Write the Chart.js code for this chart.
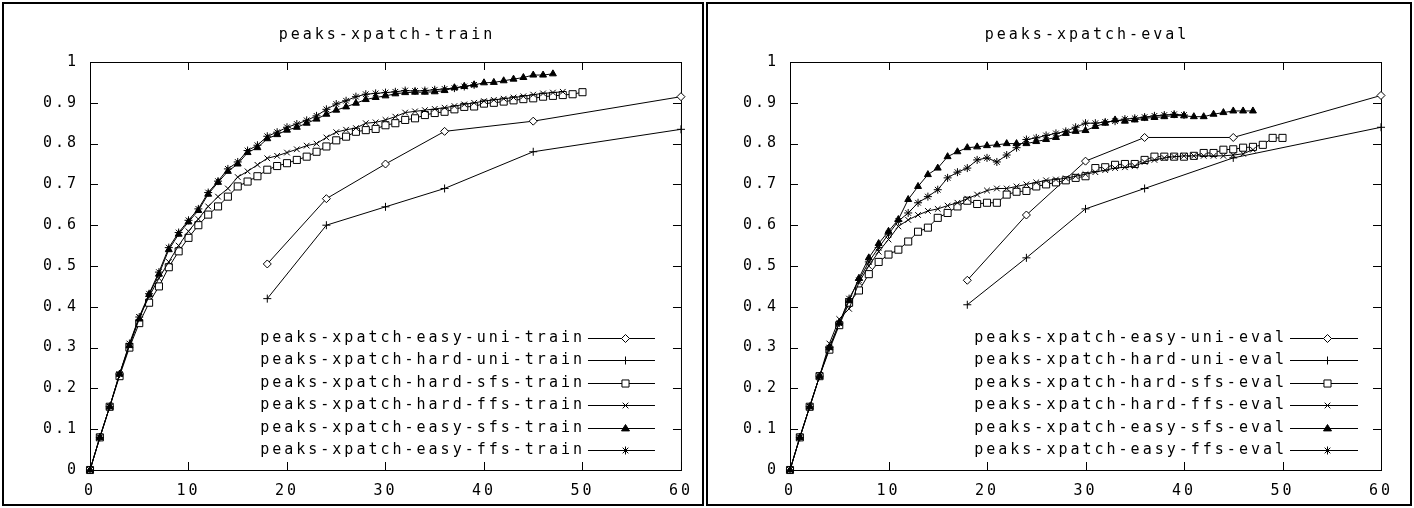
<!DOCTYPE html>
<html>
<head>
<meta charset="utf-8">
<script src="https://cdn.jsdelivr.net/npm/chart.js@4/dist/chart.umd.min.js"></script>
<style>
body { margin: 0; background: #fff; width: 1414px; height: 508px; position: relative; overflow: hidden; }
.panel { position: absolute; top: 2px; border: 2px solid #000; height: 500px; background: #fff; }
#p1 { left: 2px; width: 698px; }
#p2 { left: 706px; width: 702px; }
canvas { display: block; }
</style>
</head>
<body>
<div class="panel" id="p1"><canvas id="train" width="698" height="500"></canvas></div>
<div class="panel" id="p2"><canvas id="eval" width="702" height="500"></canvas></div>
<script>
// feature counts on the x axis
var steps = [0,1,2,3,4,5,6,7,8,9,10,11,12,13,14,15,16,17,18,19,20,21,22,23,24,25,
  26,27,28,29,30,31,32,33,34,35,36,37,38,39,40,41,42,43,44,45,46,47,48,49,50];
var uniX = [18, 24, 30, 36, 45, 60];

var xTicks = [0, 10, 20, 30, 40, 50, 60];
var yTicks = [0, 0.1, 0.2, 0.3, 0.4, 0.5, 0.6, 0.7, 0.8, 0.9, 1];

var trainNames = ['peaks-xpatch-easy-uni-train', 'peaks-xpatch-hard-uni-train',
  'peaks-xpatch-hard-sfs-train', 'peaks-xpatch-hard-ffs-train',
  'peaks-xpatch-easy-sfs-train', 'peaks-xpatch-easy-ffs-train'];
var evalNames = ['peaks-xpatch-easy-uni-eval', 'peaks-xpatch-hard-uni-eval',
  'peaks-xpatch-hard-sfs-eval', 'peaks-xpatch-hard-ffs-eval',
  'peaks-xpatch-easy-sfs-eval', 'peaks-xpatch-easy-ffs-eval'];

// train
var trainEasyUni = [0.505, 0.665, 0.75, 0.83, 0.855, 0.915];
var trainHardUni = [0.42, 0.60, 0.645, 0.69, 0.78, 0.835];
var trainHardSfs = [0, 0.08, 0.155, 0.23, 0.30, 0.36, 0.41, 0.45, 0.497, 0.536, 0.569, 0.60, 0.626,
  0.646, 0.67, 0.695, 0.707, 0.72, 0.736, 0.745, 0.752, 0.76, 0.768, 0.78, 0.793, 0.808, 0.817,
  0.829, 0.833, 0.836, 0.845, 0.85, 0.858, 0.862, 0.87, 0.875, 0.878, 0.884, 0.89, 0.891, 0.898,
  0.90, 0.903, 0.906, 0.909, 0.911, 0.915, 0.917, 0.919, 0.921, 0.926];
var trainHardFfs = [0, 0.08, 0.155, 0.235, 0.305, 0.375, 0.425, 0.47, 0.51, 0.55, 0.585, 0.615,
  0.646, 0.67, 0.69, 0.718, 0.732, 0.748, 0.764, 0.77, 0.778, 0.786, 0.795, 0.80, 0.815, 0.828,
  0.834, 0.838, 0.85, 0.852, 0.858, 0.866, 0.876, 0.879, 0.882, 0.885, 0.888, 0.892, 0.896, 0.90,
  0.904, 0.907, 0.91, 0.913, 0.916, 0.92, 0.923, 0.925, 0.927];
var trainEasySfs = [0, 0.08, 0.155, 0.235, 0.305, 0.37, 0.43, 0.48, 0.54, 0.578, 0.608, 0.636,
  0.676, 0.705, 0.732, 0.75, 0.778, 0.79, 0.812, 0.822, 0.833, 0.84, 0.85, 0.86, 0.872, 0.882,
  0.89, 0.899, 0.908, 0.913, 0.917, 0.922, 0.925, 0.926, 0.926, 0.927, 0.93, 0.937, 0.94, 0.944,
  0.949, 0.95, 0.954, 0.958, 0.962, 0.968, 0.968, 0.971];
var trainEasyFfs = [0, 0.08, 0.155, 0.235, 0.31, 0.375, 0.432, 0.485, 0.545, 0.582, 0.612, 0.64,
  0.68, 0.708, 0.738, 0.755, 0.783, 0.796, 0.818, 0.828, 0.84, 0.848, 0.857, 0.868, 0.884, 0.897,
  0.905, 0.915, 0.921, 0.923, 0.925, 0.927, 0.93, 0.929, 0.93, 0.932, 0.934, 0.936, 0.94, 0.944];

// eval
var evalEasyUni = [0.465, 0.625, 0.757, 0.815, 0.815, 0.918];
var evalHardUni = [0.405, 0.52, 0.64, 0.69, 0.765, 0.84];
var evalHardSfs = [0, 0.08, 0.155, 0.23, 0.295, 0.355, 0.41, 0.44, 0.48, 0.51, 0.528, 0.54, 0.56,
  0.584, 0.594, 0.618, 0.63, 0.646, 0.66, 0.652, 0.655, 0.655, 0.675, 0.682, 0.684, 0.695, 0.70,
  0.705, 0.71, 0.716, 0.72, 0.74, 0.742, 0.748, 0.75, 0.75, 0.76, 0.768, 0.768, 0.768, 0.768,
  0.77, 0.777, 0.777, 0.785, 0.786, 0.79, 0.792, 0.797, 0.814, 0.814];
var evalHardFfs = [0, 0.08, 0.155, 0.23, 0.31, 0.37, 0.395, 0.46, 0.50, 0.535, 0.565, 0.597, 0.613,
  0.625, 0.635, 0.64, 0.648, 0.655, 0.665, 0.675, 0.685, 0.69, 0.69, 0.695, 0.70, 0.705, 0.71,
  0.712, 0.715, 0.72, 0.725, 0.73, 0.735, 0.74, 0.742, 0.745, 0.755, 0.76, 0.765, 0.768, 0.77,
  0.77, 0.77, 0.77, 0.77, 0.772, 0.775, 0.785];
var evalEasySfs = [0, 0.08, 0.155, 0.23, 0.30, 0.36, 0.415, 0.47, 0.52, 0.555, 0.585, 0.614, 0.663,
  0.695, 0.724, 0.74, 0.768, 0.78, 0.79, 0.792, 0.795, 0.797, 0.80, 0.80, 0.80, 0.805, 0.81,
  0.815, 0.825, 0.83, 0.832, 0.842, 0.85, 0.858, 0.855, 0.858, 0.862, 0.864, 0.866, 0.869, 0.868,
  0.866, 0.866, 0.872, 0.876, 0.88, 0.88, 0.88];
var evalEasyFfs = [0, 0.08, 0.155, 0.23, 0.30, 0.36, 0.42, 0.465, 0.51, 0.545, 0.578, 0.61, 0.63,
  0.655, 0.67, 0.687, 0.716, 0.73, 0.74, 0.76, 0.765, 0.755, 0.772, 0.79, 0.81, 0.814, 0.82,
  0.825, 0.83, 0.84, 0.85, 0.85, 0.853, 0.855, 0.86, 0.862, 0.865, 0.868, 0.87, 0.872, 0.87];

var FAMILY = "'DejaVu Sans Mono', monospace";
var FONT = "15px " + FAMILY;
var LS = 3;

// gnuplot point types, in series order
var marks = [
  { style: 'rectRot', r: 4, fill: '#fff' },
  { style: 'cross', r: 4, fill: '#000' },
  { style: 'rect', r: 5, fill: '#fff' },
  { style: 'crossRot', r: 4, fill: '#000' },
  { style: 'triangle', r: 4, fill: '#000' },
  { style: 'star', r: 4, fill: '#000' }
];

// title and key placement per canvas (offsets from the right edge of the plot)
var panelText = {
  train: { title: 'peaks-xpatch-train', titleY: 31, textEnd: 99, lineStart: 93, lineEnd: 26, markAt: 56 },
  eval: { title: 'peaks-xpatch-eval', titleY: 31, textEnd: 97, lineStart: 91, lineEnd: 23, markAt: 54 }
};

function pts(xs, ys) {
  return ys.map(function (y, i) { return { x: xs[i], y: y }; });
}

function makeSets(names, series) {
  return series.map(function (s, i) {
    return {
      label: names[i],
      data: pts(s[0], s[1]),
      borderColor: '#000',
      borderWidth: 1,
      pointStyle: marks[i].style,
      pointRadius: marks[i].r,
      pointBorderColor: '#000',
      pointBorderWidth: 1,
      pointBackgroundColor: marks[i].fill,
      tension: 0,
      clip: false,
      order: 5 - i
    };
  });
}

// key sample marks
function drawMark(ctx, m, x, y) {
  var r = m.r, d;
  ctx.save();
  ctx.fillStyle = m.fill;
  ctx.strokeStyle = '#000';
  ctx.lineWidth = 1;
  ctx.beginPath();
  if (m.style === 'rectRot') {
    ctx.moveTo(x, y - r); ctx.lineTo(x + r, y); ctx.lineTo(x, y + r); ctx.lineTo(x - r, y);
    ctx.closePath(); ctx.fill(); ctx.stroke();
  } else if (m.style === 'rect') {
    d = r * Math.SQRT1_2;
    ctx.rect(x - d, y - d, 2 * d, 2 * d); ctx.fill(); ctx.stroke();
  } else if (m.style === 'triangle') {
    ctx.moveTo(x, y - r); ctx.lineTo(x + r, y + r * 0.6); ctx.lineTo(x - r, y + r * 0.6);
    ctx.closePath(); ctx.fill(); ctx.stroke();
  } else {
    if (m.style === 'cross' || m.style === 'star') {
      ctx.moveTo(x - r, y); ctx.lineTo(x + r, y); ctx.moveTo(x, y - r); ctx.lineTo(x, y + r);
    }
    if (m.style === 'crossRot' || m.style === 'star') {
      d = r * Math.SQRT1_2;
      ctx.moveTo(x - d, y - d); ctx.lineTo(x + d, y + d); ctx.moveTo(x - d, y + d); ctx.lineTo(x + d, y - d);
    }
    ctx.stroke();
  }
  ctx.restore();
}

var gnuplotLook = {
  id: 'gnuplotLook',
  beforeDraw: function (chart) {
    chart.ctx.letterSpacing = LS + 'px';
  },
  beforeDatasetsDraw: function (chart) {
    var ctx = chart.ctx, a = chart.chartArea, sx = chart.scales.x, sy = chart.scales.y;
    ctx.save();
    ctx.strokeStyle = '#000';
    ctx.lineWidth = 1;
    ctx.strokeRect(a.left + 0.5, a.top + 0.5, a.right - a.left, a.bottom - a.top);
    ctx.beginPath();
    sx.ticks.forEach(function (t) {
      var px = Math.round(sx.getPixelForValue(t.value)) + 0.5;
      ctx.moveTo(px, a.bottom); ctx.lineTo(px, a.bottom - 8);
      ctx.moveTo(px, a.top); ctx.lineTo(px, a.top + 8);
    });
    sy.ticks.forEach(function (t) {
      var py = Math.round(sy.getPixelForValue(t.value)) + 0.5;
      ctx.moveTo(a.left, py); ctx.lineTo(a.left + 8, py);
      ctx.moveTo(a.right, py); ctx.lineTo(a.right - 8, py);
    });
    ctx.stroke();
    ctx.restore();
  },
  afterDraw: function (chart) {
    var ctx = chart.ctx, a = chart.chartArea, o = panelText[chart.canvas.id];
    ctx.save();
    ctx.font = FONT;
    ctx.letterSpacing = LS + 'px';
    ctx.fillStyle = '#000';
    ctx.textBaseline = 'middle';
    ctx.textAlign = 'center';
    ctx.fillText(o.title, (a.left + a.right) / 2 + LS / 2, o.titleY);
    chart.data.datasets.forEach(function (ds, i) {
      var y = Math.round(a.bottom - 20 - (5 - i) * 22.5) + 0.5;
      ctx.textAlign = 'right';
      ctx.fillStyle = '#000';
      ctx.fillText(ds.label, a.right - o.textEnd + LS, y);
      ctx.beginPath();
      ctx.strokeStyle = '#000';
      ctx.lineWidth = 1;
      ctx.moveTo(a.right - o.lineStart, y);
      ctx.lineTo(a.right - o.lineEnd, y);
      ctx.stroke();
      drawMark(ctx, marks[i], Math.round(a.right - o.markAt) + 0.5, y);
    });
    ctx.restore();
  }
};

function makeChart(id, names, series, pad) {
  var ctx = document.getElementById(id).getContext('2d');
  return new Chart(ctx, {
    type: 'line',
    data: { datasets: makeSets(names, series) },
    options: {
      responsive: false,
      animation: false,
      events: [],
      layout: { padding: pad },
      plugins: {
        legend: { display: false },
        tooltip: { enabled: false }
      },
      scales: {
        x: {
          type: 'linear', min: 0, max: 60,
          afterBuildTicks: function (s) { s.ticks = xTicks.map(function (v) { return { value: v }; }); },
          afterFit: function (s) { s.height = 30; },
          grid: { display: false, drawTicks: false },
          border: { display: false },
          ticks: { color: '#000', font: { family: FAMILY, size: 15 }, padding: 12, maxRotation: 0, autoSkip: false }
        },
        y: {
          min: 0, max: 1,
          afterBuildTicks: function (s) { s.ticks = yTicks.map(function (v) { return { value: v }; }); },
          afterFit: function (s) { s.width = 60; },
          grid: { display: false, drawTicks: false },
          border: { display: false },
          ticks: {
            color: '#000', font: { family: FAMILY, size: 15 }, padding: 11, autoSkip: false,
            callback: function (v) { return String(Math.round(v * 10) / 10); }
          }
        }
      }
    },
    plugins: [gnuplotLook]
  });
}

makeChart('train', trainNames, [
  [uniX, trainEasyUni], [uniX, trainHardUni], [steps, trainHardSfs],
  [steps, trainHardFfs], [steps, trainEasySfs], [steps, trainEasyFfs]
], { left: 26, right: 19, top: 58, bottom: 4 });

makeChart('eval', evalNames, [
  [uniX, evalEasyUni], [uniX, evalHardUni], [steps, evalHardSfs],
  [steps, evalHardFfs], [steps, evalEasySfs], [steps, evalEasyFfs]
], { left: 22, right: 29, top: 58, bottom: 4 });
</script>
</body>
</html>
